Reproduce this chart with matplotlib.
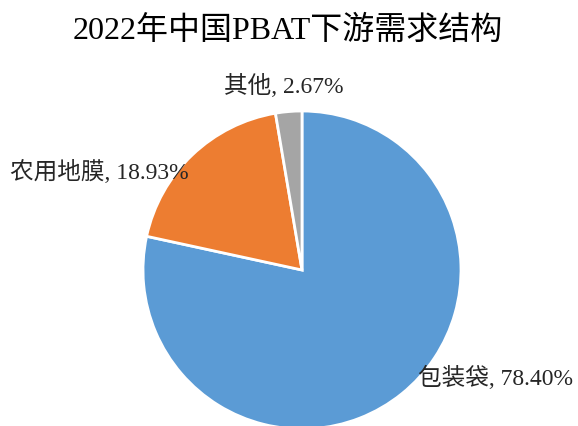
import matplotlib
matplotlib.use("Agg")
import matplotlib.pyplot as plt

# data
labels = ["包装袋", "农用地膜", "其他"]
shares = [78.40, 18.93, 2.67]
colors = ["#5B9BD5", "#ED7D31", "#A5A5A5"]

plt.rcParams['font.family'] = ['Liberation Serif', 'Noto Sans CJK SC']

fig = plt.figure(figsize=(5.78, 4.26), dpi=100)
ax = fig.add_axes([0, 0, 1, 1])

ax.pie(shares, colors=colors, startangle=90, counterclock=False,
       center=(302, 156), radius=159, frame=True,
       wedgeprops=dict(edgecolor="white", linewidth=2))
ax.set_xlim(0, 578)
ax.set_ylim(0, 426)
ax.set_aspect("equal")
ax.axis("off")

# labels
label_pos = [(496, 48, "center"), (10, 254, "left"), (284, 340, "center")]
for lab, val, (x, y, ha) in zip(labels, shares, label_pos):
    ax.text(x, y, f"{lab}, {val:.2f}%", fontsize=17, ha=ha, va="center",
            color="#262626")

ax.text(288, 395, "2022年中国PBAT下游需求结构", fontsize=23, ha="center",
        va="center", color="black")

fig.savefig("out.png", dpi=100)
